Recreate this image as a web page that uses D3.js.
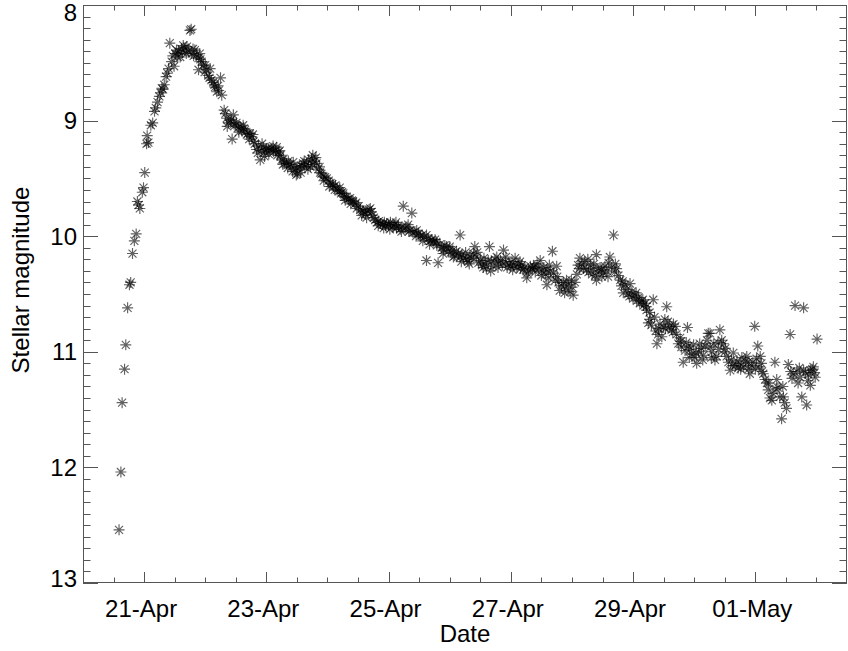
<!DOCTYPE html>
<html>
<head>
    <script src="https://d3js.org/d3.v7.min.js"></script>
    <style>
        body {
            margin: 0;
            background: #fff;
        }
        svg text {
            font-family: "Liberation Sans", Arial, Helvetica, sans-serif;
            font-size: 24px;
            fill: #000;
        }
        .star {
            fill: none;
            stroke: #000;
            stroke-width: 1.15;
            stroke-opacity: 0.62;
        }
    </style>
</head>
<body>
<svg width="848" height="651"></svg>
<script>
    // observations: [days after 20-Apr 00:00 UT, magnitude]
    var rise = [
        [0.59, 12.54], [0.62, 12.04], [0.64, 11.44], [0.68, 11.15], [0.70, 10.94], [0.73, 10.62],
        [0.76, 10.42], [0.78, 10.40], [0.81, 10.15], [0.84, 10.04], [0.87, 9.98], [0.89, 9.70],
        [0.91, 9.73], [0.93, 9.76], [0.97, 9.62], [0.99, 9.58], [1.01, 9.45], [1.04, 9.20],
        [1.05, 9.13], [1.07, 9.19], [1.11, 9.04], [1.14, 9.02], [1.17, 8.92], [1.19, 8.89],
        [1.22, 8.84], [1.25, 8.79], [1.27, 8.76], [1.29, 8.72], [1.31, 8.73], [1.33, 8.69],
        [1.36, 8.62], [1.38, 8.59], [1.40, 8.55]
    ];
    var peak = [
        [1.42, 8.33], [1.45, 8.49], [1.47, 8.44], [1.49, 8.53], [1.51, 8.42], [1.53, 8.39],
        [1.56, 8.40], [1.59, 8.45], [1.61, 8.38], [1.64, 8.35], [1.67, 8.37], [1.70, 8.36],
        [1.72, 8.40], [1.75, 8.22], [1.77, 8.21], [1.78, 8.42], [1.81, 8.44], [1.83, 8.39],
        [1.86, 8.43], [1.89, 8.46], [1.89, 8.56], [1.91, 8.42], [1.94, 8.49], [1.97, 8.52],
        [1.99, 8.58], [2.02, 8.56], [2.05, 8.61], [2.08, 8.55], [2.10, 8.65], [2.13, 8.67],
        [2.16, 8.71], [2.19, 8.75], [2.22, 8.74], [2.25, 8.63], [2.27, 8.78],
        [1.55, 8.45], [1.63, 8.41], [1.69, 8.42], [1.80, 8.38], [1.92, 8.47], [2.00, 8.52],
        [2.07, 8.63], [2.15, 8.69], [2.21, 8.70]
    ];
    var decline = [
        [2.31, 8.91], [2.33, 8.94], [2.35, 8.98], [2.38, 9.02], [2.41, 9.00], [2.43, 8.99],
        [2.44, 9.16], [2.46, 8.95], [2.49, 9.04], [2.51, 9.02], [2.54, 9.06], [2.57, 9.05],
        [2.60, 9.09], [2.63, 9.07], [2.65, 9.08], [2.68, 9.12], [2.70, 9.11], [2.73, 9.11],
        [2.76, 9.14], [2.79, 9.18], [2.81, 9.20], [2.84, 9.25], [2.87, 9.22], [2.90, 9.34],
        [2.92, 9.26], [2.95, 9.23], [2.98, 9.27], [3.00, 9.25], [3.03, 9.24], [3.06, 9.25],
        [3.09, 9.24], [3.12, 9.27], [3.15, 9.26], [3.17, 9.23], [3.20, 9.27], [3.23, 9.30],
        [3.25, 9.34], [3.28, 9.33], [3.30, 9.37], [3.33, 9.37], [3.36, 9.35], [3.39, 9.38],
        [3.41, 9.40], [3.44, 9.36], [3.47, 9.42], [3.49, 9.47], [3.51, 9.46], [3.54, 9.40],
        [3.57, 9.39], [3.60, 9.37], [3.63, 9.40], [3.66, 9.38], [3.69, 9.34], [3.72, 9.40],
        [3.74, 9.33], [3.76, 9.30], [3.79, 9.35], [3.82, 9.37], [3.85, 9.42], [3.88, 9.45],
        [3.90, 9.46], [3.93, 9.48], [3.96, 9.49], [3.99, 9.50], [4.02, 9.52], [4.05, 9.54],
        [4.08, 9.55], [4.10, 9.57], [4.13, 9.56], [4.16, 9.60], [4.19, 9.61], [4.22, 9.63],
        [4.24, 9.62], [4.26, 9.63], [4.28, 9.66], [4.31, 9.66], [4.34, 9.68], [4.37, 9.67],
        [4.40, 9.69], [4.42, 9.70], [4.45, 9.72], [4.48, 9.76], [4.51, 9.74], [4.54, 9.77],
        [4.57, 9.78], [4.59, 9.79], [4.62, 9.81], [4.65, 9.78], [4.68, 9.77], [4.70, 9.76],
        [4.73, 9.82], [4.76, 9.84], [4.78, 9.86], [4.81, 9.88], [4.84, 9.87], [4.87, 9.89],
        [4.90, 9.90], [4.93, 9.88], [4.95, 9.91], [4.97, 9.89], [5.00, 9.90], [5.03, 9.88],
        [5.06, 9.92], [5.08, 9.91], [5.10, 9.90], [5.13, 9.93], [5.16, 9.91], [5.19, 9.94],
        [5.22, 9.92], [5.24, 9.74], [5.27, 9.93], [5.30, 9.92], [5.33, 9.96], [5.35, 9.95],
        [5.38, 9.80], [5.40, 9.97], [5.43, 9.96], [5.46, 9.95], [5.49, 9.98], [5.52, 10.00],
        [5.55, 9.99], [5.58, 10.01], [5.62, 9.99], [5.62, 10.21], [5.65, 10.02], [5.68, 10.04],
        [5.71, 10.03], [5.74, 10.05], [5.76, 10.03], [5.79, 10.08], [5.81, 10.23], [5.84, 10.07],
        [5.87, 10.10], [5.90, 10.12], [5.92, 10.08], [5.95, 10.09], [5.98, 10.13],
        [2.36, 9.05], [2.47, 9.03], [2.55, 9.10], [2.62, 9.04], [2.72, 9.16], [2.78, 9.12],
        [2.86, 9.28], [2.93, 9.20], [2.97, 9.31], [3.04, 9.29], [3.11, 9.22], [3.18, 9.30],
        [3.22, 9.26], [3.27, 9.38], [3.35, 9.41], [3.43, 9.44], [3.50, 9.41], [3.56, 9.45],
        [3.62, 9.35], [3.68, 9.42], [3.75, 9.38], [3.81, 9.32], [3.87, 9.40], [3.94, 9.52],
        [4.03, 9.57], [4.12, 9.60], [4.20, 9.58], [4.29, 9.69], [4.38, 9.72], [4.47, 9.71],
        [4.56, 9.82], [4.64, 9.84], [4.72, 9.79], [4.83, 9.91], [4.92, 9.93], [5.02, 9.94],
        [5.12, 9.88], [5.21, 9.96], [5.32, 9.90], [5.45, 10.00], [5.56, 10.04], [5.67, 10.07],
        [5.78, 10.05], [5.89, 10.15]
    ];
    var plateau = [
        [6.00, 10.09], [6.02, 10.14], [6.05, 10.12], [6.08, 10.17], [6.11, 10.13], [6.14, 10.15],
        [6.17, 9.99], [6.17, 10.18], [6.20, 10.16], [6.23, 10.19], [6.26, 10.14], [6.28, 10.20],
        [6.30, 10.22], [6.33, 10.17], [6.36, 10.19], [6.39, 10.15], [6.41, 10.09], [6.44, 10.18],
        [6.47, 10.23], [6.50, 10.21], [6.53, 10.25], [6.56, 10.19], [6.58, 10.24], [6.60, 10.28],
        [6.63, 10.21], [6.65, 10.09], [6.68, 10.22], [6.71, 10.26], [6.74, 10.20], [6.77, 10.18],
        [6.80, 10.23], [6.83, 10.21], [6.86, 10.25], [6.88, 10.12], [6.91, 10.22], [6.94, 10.27],
        [6.97, 10.24], [6.99, 10.26], [7.02, 10.22], [7.05, 10.25], [7.07, 10.19], [7.10, 10.27],
        [7.13, 10.24], [7.16, 10.28], [7.18, 10.25], [7.20, 10.29], [7.23, 10.27], [7.26, 10.36],
        [7.29, 10.30], [7.32, 10.26], [7.35, 10.28], [7.37, 10.26], [7.40, 10.31], [7.43, 10.24],
        [7.46, 10.28], [7.48, 10.21], [7.51, 10.30], [7.54, 10.27], [7.57, 10.33], [7.59, 10.29],
        [7.59, 10.42], [7.62, 10.36], [7.65, 10.30], [7.68, 10.13], [7.70, 10.32], [7.73, 10.38],
        [7.75, 10.26], [7.78, 10.40], [7.80, 10.47], [7.83, 10.43], [7.86, 10.40], [7.89, 10.45],
        [7.91, 10.38], [7.94, 10.42], [7.97, 10.48], [8.00, 10.44], [8.02, 10.51], [8.05, 10.40],
        [8.08, 10.33], [8.10, 10.25], [8.13, 10.19], [8.16, 10.24], [8.19, 10.28], [8.21, 10.22],
        [8.24, 10.29], [8.27, 10.31], [8.30, 10.25], [8.33, 10.33], [8.35, 10.28], [8.38, 10.34],
        [8.40, 10.16], [8.40, 10.38], [8.43, 10.30], [8.46, 10.27], [8.49, 10.35], [8.51, 10.32],
        [8.54, 10.26], [8.57, 10.30], [8.60, 10.23], [8.62, 10.18], [8.65, 10.27], [8.68, 9.99],
        [8.70, 10.31], [8.73, 10.28], [8.76, 10.34], [8.79, 10.38], [8.81, 10.43], [8.84, 10.49],
        [8.87, 10.42], [8.90, 10.46], [8.92, 10.50], [8.95, 10.41], [8.98, 10.48], [9.00, 10.54],
        [9.03, 10.51], [9.06, 10.56], [9.09, 10.53], [9.11, 10.58], [9.14, 10.56], [9.17, 10.60],
        [9.20, 10.58], [9.22, 10.61], [9.22, 10.64],
        [6.06, 10.18], [6.19, 10.22], [6.32, 10.24], [6.45, 10.14], [6.55, 10.27], [6.67, 10.30],
        [6.79, 10.27], [6.92, 10.18], [7.03, 10.29], [7.15, 10.22], [7.27, 10.32], [7.39, 10.27],
        [7.50, 10.34], [7.63, 10.25], [7.76, 10.35], [7.88, 10.49], [7.99, 10.38], [8.12, 10.28],
        [8.26, 10.20], [8.36, 10.24], [8.48, 10.29], [8.59, 10.35], [8.71, 10.24], [8.83, 10.39],
        [8.94, 10.52], [9.05, 10.49], [9.16, 10.55]
    ];
    var tail = [
        [9.25, 10.75], [9.27, 10.66], [9.30, 10.77], [9.33, 10.55], [9.35, 10.70], [9.37, 10.82],
        [9.39, 10.93], [9.42, 10.80], [9.44, 10.76], [9.47, 10.87], [9.50, 10.79], [9.52, 10.72],
        [9.55, 10.61], [9.57, 10.74], [9.60, 10.78], [9.63, 10.81], [9.66, 10.76], [9.69, 10.78],
        [9.71, 10.85], [9.74, 10.93], [9.77, 10.88], [9.79, 10.96], [9.82, 11.09], [9.85, 10.99],
        [9.87, 10.92], [9.89, 10.79], [9.91, 10.95], [9.93, 10.98], [9.96, 11.02], [9.99, 10.94],
        [10.01, 11.05], [10.04, 11.10], [10.07, 11.00], [10.09, 10.93], [10.12, 10.97], [10.15, 11.03],
        [10.18, 10.95], [10.21, 10.90], [10.23, 10.84], [10.26, 10.84], [10.26, 10.96], [10.29, 11.00],
        [10.32, 10.93], [10.34, 11.07], [10.37, 11.04], [10.40, 10.98], [10.42, 10.81], [10.45, 10.90],
        [10.48, 10.93], [10.50, 11.00], [10.53, 11.04], [10.56, 11.09], [10.59, 11.16], [10.61, 11.07],
        [10.64, 11.01], [10.67, 11.12], [10.70, 11.08], [10.72, 11.14], [10.75, 11.10], [10.78, 11.05],
        [10.81, 11.13], [10.84, 11.08], [10.86, 11.04], [10.89, 11.15], [10.91, 11.19], [10.94, 11.12],
        [10.96, 11.09], [10.99, 10.78], [11.02, 11.06], [11.04, 10.95], [11.06, 11.13], [11.08, 11.04],
        [11.11, 11.17], [11.13, 11.19], [11.16, 11.24], [11.19, 11.27], [11.21, 11.33], [11.24, 11.40],
        [11.27, 11.42], [11.29, 11.36], [11.32, 11.09], [11.35, 11.24], [11.37, 11.31], [11.40, 11.39],
        [11.43, 11.58], [11.46, 11.39], [11.48, 11.44], [11.51, 11.49], [11.54, 11.11], [11.57, 10.85],
        [11.60, 11.23], [11.62, 11.19], [11.65, 10.60], [11.68, 11.17], [11.70, 11.27], [11.73, 11.22],
        [11.76, 11.39], [11.79, 10.62], [11.79, 11.16], [11.82, 11.18], [11.84, 11.46], [11.87, 11.20],
        [11.90, 11.16], [11.90, 11.29], [11.93, 11.15], [11.95, 11.13], [11.98, 11.22], [12.01, 10.89],
        [9.28, 10.72], [9.41, 10.85], [9.53, 10.80], [9.65, 10.83], [9.78, 10.91], [9.92, 11.05],
        [10.03, 11.01], [10.14, 11.07], [10.28, 11.05], [10.39, 10.92], [10.51, 10.97], [10.63, 11.12],
        [10.76, 11.15], [10.88, 11.09], [11.00, 11.15], [11.10, 11.10], [11.22, 11.27], [11.34, 11.32],
        [11.45, 11.30], [11.58, 11.17], [11.72, 11.14], [11.86, 11.25], [11.97, 11.18]
    ];

    // axis ticks
    var dateTickDay = [1, 3, 5, 7, 9, 11];
    var dateTickLabel = ["21-Apr", "23-Apr", "25-Apr", "27-Apr", "29-Apr", "01-May"];
    var magTicks = [8, 9, 10, 11, 12, 13];

    var svg = d3.select("svg"),
        margin = {top: 5, right: 1, bottom: 68, left: 83},
        width = +svg.attr("width") - margin.left - margin.right,
        height = +svg.attr("height") - margin.top - margin.bottom;

    var t0 = Date.UTC(2021, 3, 20);
    function toDate(day) {
        return new Date(t0 + day * 864e5);
    }

    var x = d3.scaleUtc().domain([toDate(0), toDate(12.5)]).range([0, width]),
        y = d3.scaleLinear().domain([8, 13]).range([0, height]);

    var g = svg.append("g")
        .attr("transform", "translate(" + margin.left + "," + margin.top + ")");

    var majorX = dateTickDay.map(toDate),
        minorX = d3.range(1, 25).map(function(k) { return toDate(k / 2); }),
        minorY = d3.range(80, 131).map(function(k) { return k / 10; });

    var xLenMaj = 11, xLenMin = 5.5, yLenMaj = 15, yLenMin = 7.5;
    var tickColor = "#555";

    // vertical ticks on bottom and top
    [[height, -1], [0, 1]].forEach(function(side) {
        g.selectAll(null)
            .data(minorX)
            .enter().append("line")
            .attr("x1", function(d) { return Math.round(x(d)) + 0.5; })
            .attr("x2", function(d) { return Math.round(x(d)) + 0.5; })
            .attr("y1", side[0])
            .attr("y2", function(d) {
                var major = dateTickDay.indexOf(Math.round((d - t0) / 864e5 * 2) / 2) >= 0;
                return side[0] + side[1] * (major ? xLenMaj : xLenMin);
            })
            .attr("stroke", tickColor);
    });

    // horizontal ticks on left and right
    [[0, 1], [width, -1]].forEach(function(side) {
        g.selectAll(null)
            .data(minorY)
            .enter().append("line")
            .attr("y1", function(d) { return Math.round(y(d)) + 0.5; })
            .attr("y2", function(d) { return Math.round(y(d)) + 0.5; })
            .attr("x1", side[0])
            .attr("x2", function(d) {
                var major = Math.abs(d - Math.round(d)) < 1e-6;
                return side[0] + side[1] * (major ? yLenMaj : yLenMin);
            })
            .attr("stroke", tickColor);
    });

    // frame
    g.append("rect")
        .attr("x", 0.5)
        .attr("y", 0.5)
        .attr("width", width - 1)
        .attr("height", height - 1)
        .attr("fill", "none")
        .attr("stroke", tickColor);

    // tick labels
    g.selectAll(".xlab")
        .data(majorX)
        .enter().append("text")
        .attr("class", "xlab")
        .attr("x", function(d) { return x(d) - 3; })
        .attr("y", height + 34)
        .attr("text-anchor", "middle")
        .text(function(d, i) { return dateTickLabel[i]; });

    g.selectAll(".ylab")
        .data(magTicks)
        .enter().append("text")
        .attr("class", "ylab")
        .attr("x", -6)
        .attr("y", function(d) { return Math.min(Math.max(y(d), 7), height - 5); })
        .attr("dy", "0.36em")
        .attr("text-anchor", "end")
        .text(function(d) { return d; });

    // axis titles
    g.append("text")
        .attr("x", width / 2)
        .attr("y", height + 59)
        .attr("text-anchor", "middle")
        .text("Date");

    svg.append("text")
        .attr("transform", "translate(29,280) rotate(-90)")
        .attr("text-anchor", "middle")
        .text("Stellar magnitude");

    // asterisk markers
    var star = "M-5.5,0H5.5M0,-5.5V5.5M-4,-4L4,4M-4,4L4,-4";
    var points = rise.concat(peak, decline, plateau, tail);

    g.selectAll(".star")
        .data(points)
        .enter().append("path")
        .attr("class", "star")
        .attr("d", star)
        .attr("transform", function(d) {
            return "translate(" + x(toDate(d[0])) + "," + y(d[1]) + ")";
        });
</script>
</body>
</html>
